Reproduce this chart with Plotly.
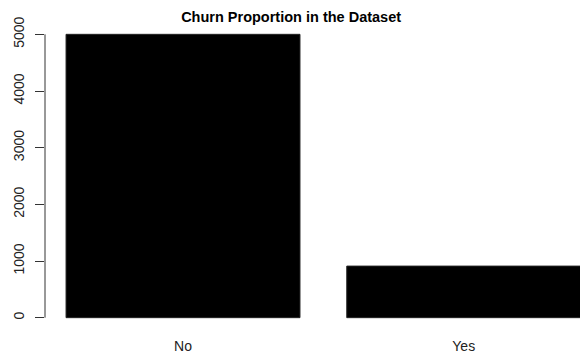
import plotly.graph_objects as go

categories = ["No", "Yes"]
counts = [5000, 910]
bar_positions = [0.7, 1.9]
y_ticks = [0, 1000, 2000, 3000, 4000, 5000]
y_tick_labels = ["0", "1000", "2000", "3000", "4000", "5000"]

fig = go.Figure()
fig.add_trace(go.Bar(
    x=bar_positions, y=counts, width=1.0,
    marker=dict(color="black", line=dict(color="#222222", width=1)),
    hoverinfo="skip", showlegend=False,
))

font_family = "Liberation Sans, Arial, sans-serif"

fig.update_layout(
    width=580, height=354,
    margin=dict(l=45, r=0, t=23, b=25, pad=0, autoexpand=False),
    paper_bgcolor="white", plot_bgcolor="white",
    title=dict(text="<b>Churn Proportion in the Dataset</b>", x=0.46, xref="paper",
               xanchor="center", y=1 - 16.5 / 354, yanchor="middle",
               font=dict(family=font_family, size=14.5, color="black")),
    xaxis=dict(range=[0.110, 2.397], tickvals=bar_positions, ticktext=categories,
               showgrid=False, zeroline=False, showline=False, ticks="",
               ticklabelstandoff=7, automargin=False,
               tickfont=dict(family=font_family, size=14, color="#222222")),
    yaxis=dict(range=[-200, 5200], tickvals=y_ticks, ticktext=y_tick_labels,
               showgrid=False, zeroline=False, showline=False,
               ticks="outside", ticklen=9, tickwidth=1, tickcolor="#333333",
               tickangle=-90, ticklabelstandoff=5, automargin=False,
               tickfont=dict(family=font_family, size=14, color="#222222")),
)

fig.add_shape(type="line", xref="paper", yref="y", x0=0, x1=0,
              y0=y_ticks[0], y1=y_ticks[-1],
              line=dict(color="#333333", width=1))

fig.write_html(
    "out.html",
    config={"displayModeBar": False, "staticPlot": True},
    post_script="document.body.style.margin='0';document.documentElement.style.overflow='hidden';document.body.style.overflow='hidden';",
)
